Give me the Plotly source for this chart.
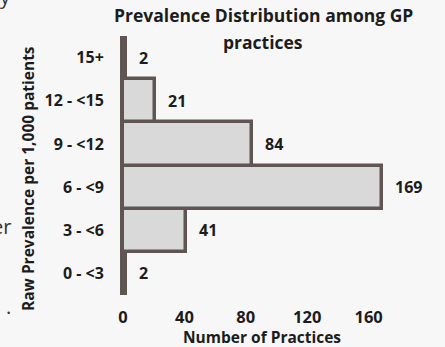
import plotly.graph_objects as go

# data
categories = ["0 - <3", "3 - <6", "6 - <9", "9 - <12", "12 - <15", "15+"]
practices = [2, 41, 169, 84, 21, 2]
x_ticks = [0, 40, 80, 120, 160]

bar_fill = "#d9d9d9"
bar_line = "#5f5653"
text_col = "#1c1c1c"
bg = "#f7f7f7"
font = "Open Sans"

# plot area in pixels (used to place free text)
L, R, T, B = 123, 430, 36, 295


def px(xp):
    return (xp - L) / (R - L)


def py(yp):
    return 1 - (yp - T) / (B - T)


fig = go.Figure()
fig.add_trace(go.Bar(
    y=categories,
    x=practices,
    orientation="h",
    marker=dict(color=bar_fill, line=dict(color=bar_line, width=3.5)),
    showlegend=False,
    hoverinfo="x+y",
))

# value labels to the right of each bar
for c, v in zip(categories, practices):
    fig.add_annotation(x=v, y=c, text="<b>%d</b>" % v, showarrow=False,
                       xanchor="left", xshift=11,
                       font=dict(size=16, family=font, color=text_col))

# title, two lines
for txt, yp in [("<b>Prevalence Distribution among GP</b>", 15), ("<b>practices</b>", 42)]:
    fig.add_annotation(x=px(263), y=py(yp), xref="paper", yref="paper", text=txt,
                       showarrow=False, xanchor="center", yanchor="middle",
                       font=dict(size=17.5, family=font, color=text_col))

# axis titles
fig.add_annotation(x=px(262), y=py(337), xref="paper", yref="paper",
                   text="<b>Number of Practices</b>", showarrow=False,
                   xanchor="center", yanchor="middle",
                   font=dict(size=15.5, family=font, color=text_col))
fig.add_annotation(x=px(28), y=py(178), xref="paper", yref="paper",
                   text="<b>Raw Prevalence per 1,000 patients</b>", showarrow=False,
                   textangle=-90, xanchor="center", yanchor="middle",
                   font=dict(size=15.5, family=font, color=text_col))

# fragments of neighbouring text cut off at the left edge
for txt, yp in [("y", -4), ("er", 226), (".", 306)]:
    fig.add_annotation(x=px(0), y=py(yp), xref="paper", yref="paper",
                       text=txt, showarrow=False, xanchor="right", yanchor="middle", xshift=13,
                       font=dict(size=20, family="Open Sans", color="#333333"))

fig.update_layout(
    width=445, height=347,
    margin=dict(l=L, r=445 - R, t=T, b=347 - B),
    paper_bgcolor=bg, plot_bgcolor=bg,
    bargap=0,
    xaxis=dict(range=[0, 200], tickvals=x_ticks, showgrid=False, zeroline=False,
               showline=False, ticks="", ticklabelstandoff=10, automargin=False,
               tickfont=dict(size=16.5, family=font, color=text_col, weight="bold")),
    yaxis=dict(categoryorder="array", categoryarray=categories, showgrid=False,
               zeroline=False, showline=True, linecolor=bar_line, linewidth=3,
               ticks="", ticklabelstandoff=13, automargin=False,
               tickfont=dict(size=16, family=font, color=text_col, weight="bold")),
)

fig.write_html("out.html", config={"displayModeBar": False},
               post_script="document.body.style.margin='0';")
